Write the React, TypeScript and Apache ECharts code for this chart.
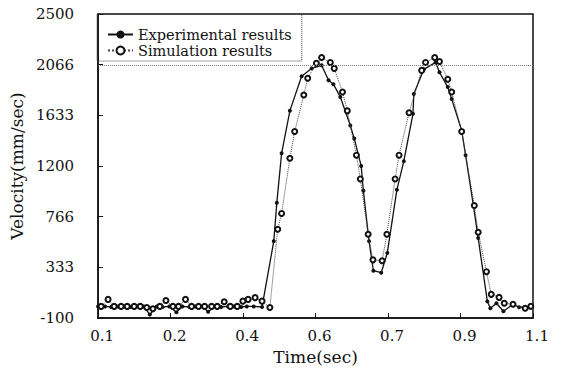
import React, { useEffect, useRef } from "react";
import * as echarts from "echarts";

// Tick values and labels (axes are divided into six equal parts)
const xTickValues = [0.1, 0.26667, 0.43333, 0.6, 0.76667, 0.93333, 1.1];
const xTickLabels = ["0.1", "0.2", "0.4", "0.6", "0.7", "0.9", "1.1"];
const yTickValues = [-100, 333.33, 766.67, 1200, 1633.33, 2066.67, 2500];
const yTickLabels = ["-100", "333", "766", "1200", "1633", "2066", "2500"];

const referenceLevel = 2066;

// Experimental results
const expTime = [
  0.1, 0.116, 0.13, 0.146, 0.159, 0.175, 0.189, 0.205, 0.219, 0.235, 0.248, 0.264,
  0.28, 0.294, 0.31, 0.324, 0.34, 0.353, 0.369, 0.383, 0.399, 0.413, 0.429, 0.442,
  0.458, 0.477, 0.504, 0.511, 0.522, 0.541, 0.568, 0.591, 0.614, 0.63, 0.641, 0.657,
  0.68, 0.689, 0.705, 0.71, 0.723, 0.733, 0.751, 0.765, 0.787, 0.803, 0.824, 0.826,
  0.849, 0.876, 0.885, 0.904, 0.913, 0.936, 0.945, 0.963, 0.974, 0.995, 1.002, 1.016,
  1.032, 1.054, 1.068, 1.093,
];
const expVel = [
  0, 0, -5, 0, 0, -5, 0, 0, -70, 0, -5, 0,
  -50, 0, -5, 0, 0, -45, 0, -5, 0, 0, -5, 0,
  0, -5, 558, 887, 1309, 1672, 1968, 2035, 2061, 1934, 1900, 1791,
  1546, 1436, 1200, 989, 558, 305, 288, 457, 997, 1242, 1647, 1816,
  2027, 2086, 2002, 1875, 1774, 1504, 1293, 862, 584, 43, -16, 27,
  -41, 18, -7, -10,
];

// Simulation results
const simTime = [
  0.107, 0.123, 0.137, 0.153, 0.167, 0.183, 0.197, 0.212, 0.226, 0.242, 0.256, 0.272,
  0.285, 0.301, 0.315, 0.331, 0.345, 0.361, 0.374, 0.39, 0.404, 0.42, 0.433, 0.445,
  0.461, 0.477, 0.495, 0.513, 0.522, 0.541, 0.552, 0.573, 0.582, 0.602, 0.614, 0.634,
  0.643, 0.662, 0.673, 0.694, 0.703, 0.721, 0.732, 0.753, 0.764, 0.783, 0.792, 0.815,
  0.844, 0.853, 0.874, 0.885, 0.904, 0.913, 0.936, 0.965, 0.974, 0.993, 1.004, 1.022,
  1.034, 1.054, 1.082, 1.095,
];
const simVel = [
  0, 60, 0, 0, 0, 0, 0, -10, -20, 0, 50, 0,
  0, 60, 0, 0, 0, 0, 0, 40, 0, 0, 45, 60,
  75, 45, -10, 660, 795, 1267, 1495, 1807, 1951, 2078, 2128, 2086,
  2035, 1833, 1672, 1293, 1090, 617, 398, 390, 617, 1090, 1293, 1656,
  2018, 2086, 2128, 2094, 1942, 1833, 1495, 862, 634, 297, 103, 77,
  27, 18, -16, 1,
];

const FONT = "DejaVu Serif";
const INK = "#111";

function nearestLabel(v: number, values: number[], labels: string[]) {
  let best = 0;
  for (let i = 1; i < values.length; i++) {
    if (Math.abs(values[i] - v) < Math.abs(values[best] - v)) best = i;
  }
  return labels[best];
}

export default function App() {
  const ref = useRef<HTMLDivElement>(null);
  useEffect(() => {
    if (!ref.current) return;
    const chart = echarts.init(ref.current, undefined, { renderer: "svg" });
    const expData = expTime.map((t, i) => [t, expVel[i]]);
    const simData = simTime.map((t, i) => [t, simVel[i]]);
    chart.setOption({
      animation: false,
      backgroundColor: "#fff",
      grid: {
        left: 97,
        right: 30,
        top: 14,
        bottom: 48,
        show: true,
        borderColor: INK,
        borderWidth: 1.5,
        backgroundColor: "transparent",
      },
      legend: {
        left: 97,
        top: 14,
        orient: "vertical",
        itemWidth: 25,
        itemHeight: 10,
        itemGap: 1,
        padding: [13, 10, 3, 10],
        borderColor: "#444",
        borderWidth: 1,
        borderType: "dotted",
        backgroundColor: "transparent",
        textStyle: { fontFamily: FONT, fontSize: 14.5, color: INK },
        data: ["Experimental results", "Simulation results"],
      },
      xAxis: {
        type: "value",
        min: 0.1,
        max: 1.1,
        name: "Time(sec)",
        nameLocation: "middle",
        nameGap: 26,
        nameTextStyle: { fontFamily: FONT, fontSize: 17, color: INK },
        axisLine: { show: true, onZero: false, lineStyle: { color: INK, width: 1.5 } },
        axisTick: { show: true, inside: true, length: 5, customValues: xTickValues, lineStyle: { color: INK } },
        axisLabel: {
          customValues: xTickValues,
          margin: 10,
          fontFamily: FONT,
          fontSize: 15,
          color: INK,
          padding: [0, 0, 0, 8],
          formatter: (v: number) => nearestLabel(v, xTickValues, xTickLabels),
        },
        splitLine: { show: false },
      },
      yAxis: {
        type: "value",
        min: -100,
        max: 2500,
        name: "Velocity(mm/sec)",
        nameLocation: "middle",
        nameGap: 62,
        nameRotate: 90,
        nameTextStyle: { fontFamily: FONT, fontSize: 17, color: INK },
        axisLine: { show: true, onZero: false, lineStyle: { color: INK, width: 1.5 } },
        axisTick: { show: true, inside: true, length: 5, customValues: yTickValues, lineStyle: { color: INK } },
        axisLabel: {
          customValues: yTickValues,
          margin: 24,
          fontFamily: FONT,
          fontSize: 15,
          color: INK,
          formatter: (v: number) => nearestLabel(v, yTickValues, yTickLabels),
        },
        splitLine: { show: false },
      },
      series: [
        {
          name: "Experimental results",
          type: "line",
          data: expData,
          symbol: "circle",
          symbolSize: 4,
          showSymbol: true,
          showAllSymbol: true,
          lineStyle: { color: INK, width: 1.3, type: "solid" },
          itemStyle: { color: INK },
          markLine: {
            silent: true,
            symbol: "none",
            label: { show: false },
            lineStyle: { color: "#777", width: 1, type: "dotted" },
            data: [{ yAxis: referenceLevel }],
          },
          z: 3,
        },
        {
          name: "Simulation results",
          type: "line",
          data: simData,
          symbol: "emptyCircle",
          symbolSize: 5,
          showSymbol: true,
          showAllSymbol: true,
          lineStyle: { color: "#444", width: 1, type: "dotted" },
          itemStyle: { color: INK, borderColor: INK, borderWidth: 1 },
          z: 4,
        },
      ],
    });
    return () => chart.dispose();
  }, []);
  return <div ref={ref} style={{ width: 563, height: 370, position: "absolute", left: 0, top: 0 }} />;
}
